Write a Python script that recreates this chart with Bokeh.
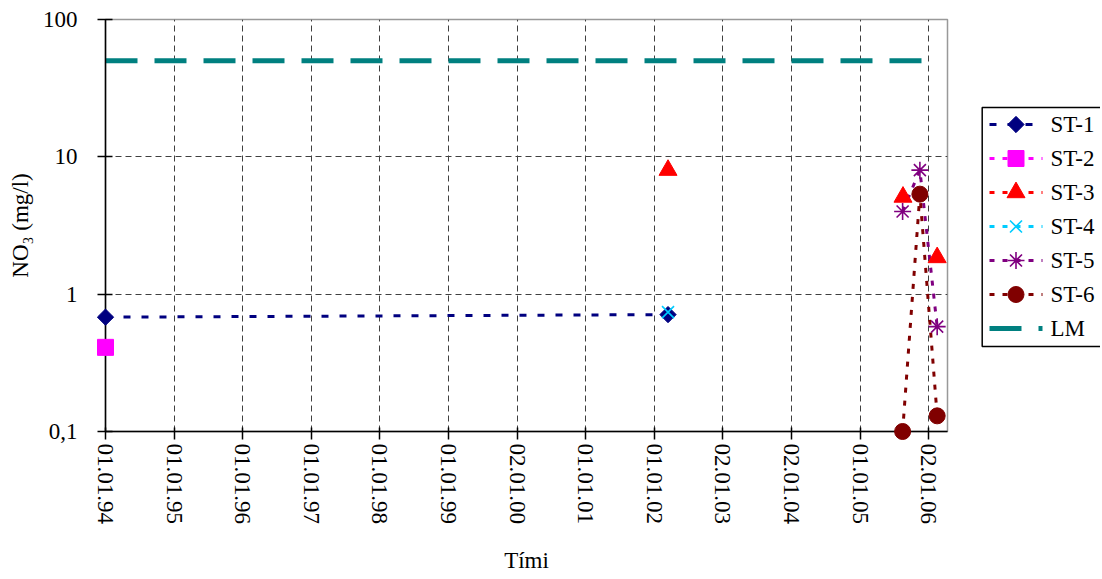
import numpy as np
import pandas as pd
from bokeh.plotting import figure
from bokeh.layouts import row
from bokeh.models import Range1d, FixedTicker, CustomJSTickFormatter, ColumnDataSource
from bokeh.core.properties import value
from bokeh.embed import file_html
from bokeh.resources import INLINE

FONT = "Liberation Serif"
FS = "23px"

# ---------------- data ----------------
start_date = "1994-01-01"
tick_labels = ["01.01.94", "01.01.95", "01.01.96", "01.01.97", "01.01.98", "01.01.99",
               "02.01.00", "01.01.01", "01.01.02", "02.01.03", "02.01.04", "01.01.05", "02.01.06"]
y_ticks = [0.1, 1, 10, 100]

series_names = ["ST-1", "ST-2", "ST-3", "ST-4", "ST-5", "ST-6", "LM"]

st1_dates = ["1994-01-01", "2002-03-15"]
st1_vals = [0.68, 0.71]
st2_dates = ["1994-01-01"]
st2_vals = [0.41]
st3_dates = ["2002-03-15", "2005-08-17", "2006-02-15"]
st3_vals = [8.0, 5.1, 1.85]
st4_dates = ["2002-03-15"]
st4_vals = [0.74]
st5_dates = ["2005-08-15", "2005-11-15", "2006-02-15"]
st5_vals = [4.0, 8.0, 0.58]
st6_dates = ["2005-08-15", "2005-11-15", "2006-02-15"]
st6_vals = [0.1, 5.35, 0.13]
lm_dates = ["1994-01-01", "2006-02-15"]
lm_vals = [50, 50]

series_dates = [st1_dates, st2_dates, st3_dates, st4_dates, st5_dates, st6_dates, lm_dates]
series_vals = [st1_vals, st2_vals, st3_vals, st4_vals, st5_vals, st6_vals, lm_vals]
series_joined = [True, False, False, False, True, True, True]

# ---------------- styles ----------------
colors = ["#000080", "#FF00FF", "#FF0000", "#00CCFF", "#800080", "#800000", "#008080"]
markers = ["square", "square", "triangle", "x", "asterisk", "circle", None]
msizes = [11.5, 16, 18, 17, 17, 16, 0]
mangles = [np.pi / 4, 0, 0, 0, 0, 0, 0]
mlw = [1, 1, 1, 1.6, 1.6, 1, 1]
dashes = ["7 11", "5 8", "5 8", "5 8", "5 8", "5 8", "32 17"]
lwidths = [3, 3, 3, 3, 3, 3, 5]


def days(dates):
    return (pd.to_datetime(dates) - pd.Timestamp(start_date)).days.to_numpy(dtype=float)


tick_pos = [int(round(i * 365.25)) for i in range(len(tick_labels))]

H = 576
FW, FH = 842, 412
LEFT, TOP = 105, 19
BOTTOM = H - TOP - FH
MAIN_W = 970
p = figure(frame_width=FW, frame_height=FH,
           min_border_left=LEFT, min_border_right=MAIN_W - LEFT - FW, min_border_top=TOP,
           min_border_bottom=BOTTOM,
           y_axis_type="log", x_range=Range1d(0, 4483), y_range=Range1d(0.1, 100),
           output_backend="svg", toolbar_location=None,
           background_fill_color="white", border_fill_color="white")

p.outline_line_color = "#999999"
p.outline_line_width = 1.5

# axes
p.xaxis.ticker = FixedTicker(ticks=tick_pos)
p.xaxis.formatter = CustomJSTickFormatter(
    args=dict(pos=tick_pos, labels=tick_labels),
    code="const i = pos.indexOf(Math.round(tick)); return i >= 0 ? labels[i] : '';")
p.yaxis.ticker = FixedTicker(ticks=y_ticks)
p.yaxis.formatter = CustomJSTickFormatter(
    code="return Number(tick.toPrecision(6)).toString().replace('.', ',');")

for ax in (p.xaxis[0], p.yaxis[0]):
    ax.axis_line_color = "black"
    ax.axis_line_width = 1.5
    ax.major_tick_line_color = "black"
    ax.major_tick_line_width = 1.5
    ax.minor_tick_in = 0
    ax.minor_tick_out = 0
    ax.major_label_text_font = FONT
    ax.major_label_text_font_size = FS
    ax.major_label_text_color = "black"
    ax.axis_label_text_font = FONT
    ax.axis_label_text_font_size = FS
    ax.axis_label_text_font_style = "normal"
    ax.axis_label_text_color = "black"

p.xaxis.major_tick_in = 4
p.xaxis.major_tick_out = 8
p.yaxis.major_tick_in = 7
p.yaxis.major_tick_out = 8
p.xaxis.major_label_orientation = "vertical"
p.xaxis.major_label_standoff = 4
p.yaxis.major_label_standoff = 20
p.xaxis.axis_label = "Tími"
p.xaxis.axis_label_standoff = 21
p.yaxis.axis_label = "NO₃ (mg/l)"
p.yaxis.axis_label_standoff = 7

p.grid.grid_line_color = "#404040"
p.grid.grid_line_dash = "6 4"
p.grid.grid_line_width = 1

# ---------------- series ----------------
for i, name in enumerate(series_names):
    src = ColumnDataSource(dict(x=days(series_dates[i]), y=series_vals[i]))
    if series_joined[i]:
        p.line("x", "y", source=src, line_color=colors[i], line_width=lwidths[i],
               line_dash=dashes[i])
    if markers[i]:
        p.scatter("x", "y", source=src, marker=markers[i], size=msizes[i], angle=mangles[i],
                  fill_color=colors[i], line_color=colors[i], line_width=mlw[i], level="overlay")

# ---------------- legend (separate panel; ranges in page pixels) ----------------
LW = 130
lg = figure(width=LW, height=H,
            x_range=Range1d(MAIN_W, MAIN_W + LW), y_range=Range1d(TOP + FH, TOP),
            min_border_left=0, min_border_right=0, min_border_top=TOP, min_border_bottom=BOTTOM,
            x_axis_location=None, y_axis_location=None,
            output_backend="svg", toolbar_location=None,
            background_fill_color="white", border_fill_color="white")
lg.outline_line_color = None
lg.grid.visible = False

leg_left, leg_right, leg_top, leg_bottom = 981.7, 1130, 107, 346
row0, pitch = 124, 34
gx0, gx1, gmx, tx = 989, 1042, 1015.5, 1050

lg.quad(left=[leg_left], right=[leg_right], top=[leg_top], bottom=[leg_bottom],
        fill_color="white", line_color="black", line_width=1.5)

for i, name in enumerate(series_names):
    yy = row0 + pitch * i
    lg.segment(x0=[gx0], y0=[yy], x1=[gx1], y1=[yy], line_color=colors[i],
               line_width=lwidths[i], line_dash=dashes[i])
    if markers[i]:
        lg.scatter(x=[gmx], y=[yy], marker=markers[i], size=msizes[i], angle=mangles[i],
                   fill_color=colors[i], line_color=colors[i], line_width=mlw[i])

lg.text(x=[tx] * len(series_names), y=[row0 + pitch * i for i in range(len(series_names))],
        text=series_names, text_font=value(FONT), text_font_size=FS, text_color="black",
        text_baseline="middle", text_align="left")

layout = row(p, lg)
open("out.html", "w").write(file_html(layout, INLINE))
